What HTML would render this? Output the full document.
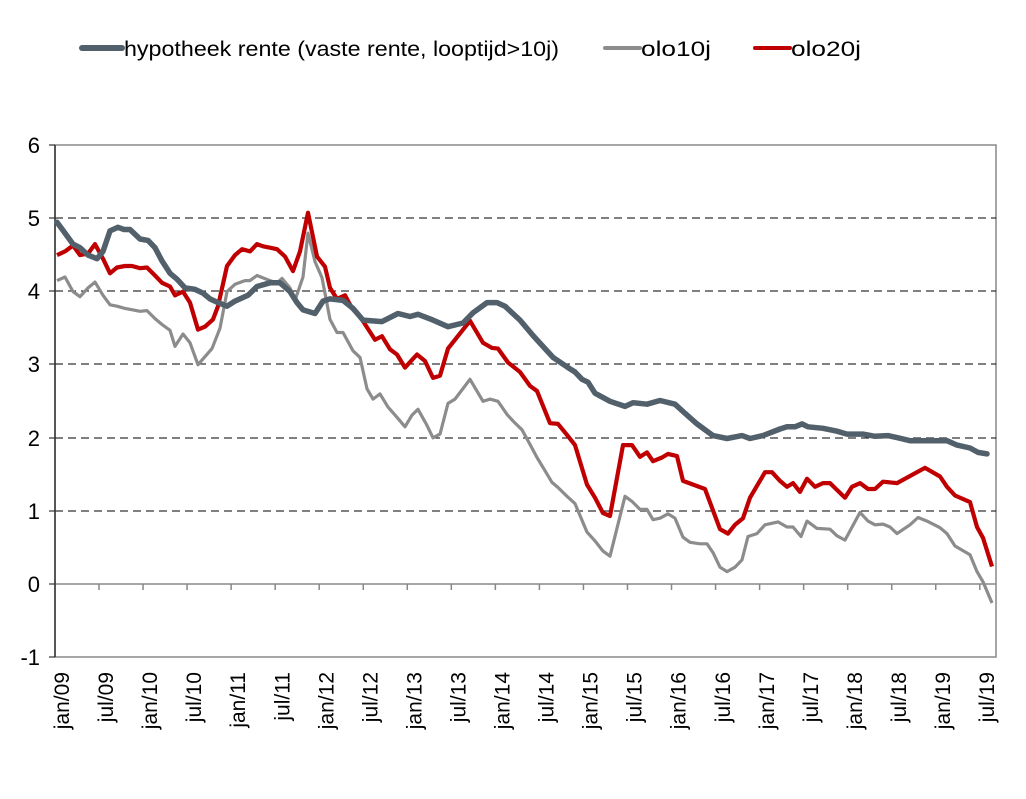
<!DOCTYPE html>
<html><head><meta charset="utf-8"><style>
html,body{margin:0;padding:0;background:#fff;}
svg{display:block;font-family:"Liberation Sans",sans-serif;}
</style></head><body>
<svg width="1026" height="799" viewBox="0 0 1026 799" xmlns="http://www.w3.org/2000/svg">
<rect width="1026" height="799" fill="#fff"/>
<line x1="82" y1="48" x2="122" y2="48" stroke="#52606b" stroke-width="6" stroke-linecap="round"/>
<text x="124" y="56" font-size="21" fill="#000" textLength="435" lengthAdjust="spacingAndGlyphs">hypotheek rente (vaste rente, looptijd&gt;10j)</text>
<line x1="605" y1="48" x2="640" y2="48" stroke="#8c8c8c" stroke-width="4" stroke-linecap="round"/>
<text x="641" y="56" font-size="21" fill="#000" textLength="70" lengthAdjust="spacingAndGlyphs">olo10j</text>
<line x1="755" y1="48" x2="790" y2="48" stroke="#c00000" stroke-width="4" stroke-linecap="round"/>
<text x="791" y="56" font-size="21" fill="#000" textLength="70" lengthAdjust="spacingAndGlyphs">olo20j</text>
<rect x="55" y="145" width="941" height="512" fill="none" stroke="#888" stroke-width="1.5"/>
<g stroke="#000" stroke-width="1" stroke-dasharray="8,5">
<line x1="55" y1="218" x2="996" y2="218"/>
<line x1="55" y1="291" x2="996" y2="291"/>
<line x1="55" y1="364" x2="996" y2="364"/>
<line x1="55" y1="438" x2="996" y2="438"/>
<line x1="55" y1="511" x2="996" y2="511"/>
</g>
<line x1="55" y1="584" x2="996" y2="584" stroke="#888" stroke-width="1.5"/>
<line x1="55" y1="145" x2="55" y2="657" stroke="#333" stroke-width="1.5"/>
<g stroke="#333" stroke-width="1.2">
<line x1="49" y1="145" x2="55" y2="145"/><line x1="49" y1="218" x2="55" y2="218"/><line x1="49" y1="291" x2="55" y2="291"/><line x1="49" y1="364" x2="55" y2="364"/><line x1="49" y1="438" x2="55" y2="438"/><line x1="49" y1="511" x2="55" y2="511"/><line x1="49" y1="584" x2="55" y2="584"/><line x1="49" y1="657" x2="55" y2="657"/>
</g>
<g stroke="#888" stroke-width="1.5" id="ticks"></g>
<g font-size="22" fill="#000" text-anchor="end">
<text x="40" y="153">6</text><text x="40" y="226">5</text><text x="40" y="299">4</text><text x="40" y="372">3</text><text x="40" y="446">2</text><text x="40" y="519">1</text><text x="40" y="592">0</text><text x="40" y="665">-1</text>
</g>
<g id="xl" font-size="21" fill="#000" text-anchor="end"></g>
<polyline id="grey" fill="none" stroke="#8c8c8c" stroke-width="3.2" stroke-linejoin="round"/>
<polyline id="red" fill="none" stroke="#c00000" stroke-width="4.2" stroke-linejoin="round"/>
<polyline id="hyp" fill="none" stroke="#52606b" stroke-width="5.5" stroke-linejoin="round" stroke-linecap="round"/>
</svg>
<script>
var NS="http://www.w3.org/2000/svg";
function Y(v){return 584-73.1*v;}
function pts(a){var s=[];for(var i=0;i<a.length;i+=2)s.push(a[i]+","+Y(a[i+1]).toFixed(1));return s.join(" ");}
var hyp=[57,4.95,65,4.8,73,4.65,80,4.6,88,4.5,97,4.45,103,4.55,110,4.83,118,4.88,124,4.85,130,4.85,140,4.72,148,4.7,155,4.6,162,4.42,170,4.25,177,4.17,185,4.05,195,4.03,203,3.98,210,3.9,218,3.85,227,3.8,235,3.87,248,3.95,257,4.07,270,4.12,280,4.12,290,4.0,297,3.85,303,3.75,315,3.7,323,3.87,330,3.9,343,3.88,353,3.77,363,3.61,382,3.59,398,3.7,410,3.66,418,3.69,433,3.61,448,3.52,463,3.57,473,3.71,487,3.85,497,3.85,505,3.8,520,3.61,533,3.4,553,3.1,567,2.97,575,2.9,582,2.8,588,2.76,595,2.61,610,2.5,625,2.43,633,2.48,647,2.46,660,2.51,675,2.46,683,2.36,697,2.19,713,2.03,727,1.99,742,2.03,750,1.99,763,2.03,780,2.12,787,2.15,795,2.15,802,2.19,808,2.15,823,2.13,837,2.09,847,2.05,863,2.05,875,2.02,888,2.03,898,2.0,910,1.96,947,1.96,957,1.9,970,1.86,978,1.8,987,1.78];
var grey=[57,4.15,65,4.2,73,4.0,80,3.93,88,4.05,95,4.13,103,3.95,110,3.82,117,3.8,125,3.77,140,3.73,147,3.74,155,3.63,162,3.55,170,3.47,175,3.25,183,3.42,190,3.3,198,3.0,212,3.22,220,3.5,227,4.0,235,4.1,245,4.15,250,4.15,257,4.22,270,4.15,277,4.12,282,4.18,290,4.05,295,3.88,303,4.2,308,4.8,315,4.41,322,4.19,330,3.62,337,3.44,343,3.44,353,3.19,360,3.1,367,2.67,373,2.53,380,2.6,388,2.42,397,2.28,405,2.15,412,2.31,418,2.39,427,2.17,433,2.0,440,2.05,448,2.47,455,2.53,470,2.8,483,2.5,490,2.53,498,2.5,507,2.32,513,2.23,522,2.11,530,1.91,537,1.73,545,1.55,552,1.39,558,1.32,567,1.2,575,1.1,587,0.71,595,0.59,603,0.45,610,0.38,625,1.2,632,1.13,640,1.02,647,1.02,653,0.88,660,0.9,668,0.96,675,0.9,683,0.64,690,0.57,700,0.55,707,0.55,713,0.43,720,0.23,727,0.17,735,0.23,742,0.33,748,0.65,757,0.69,765,0.81,778,0.85,787,0.78,793,0.78,801,0.65,807,0.86,817,0.76,830,0.75,837,0.66,845,0.6,860,0.98,868,0.86,875,0.81,883,0.82,890,0.78,897,0.69,910,0.81,918,0.91,927,0.86,940,0.77,947,0.69,955,0.52,970,0.4,977,0.17,983,0.03,992,-0.26];
var red=[57,4.5,65,4.55,73,4.63,80,4.5,88,4.52,95,4.65,103,4.45,110,4.25,117,4.33,125,4.35,132,4.35,140,4.32,147,4.33,155,4.22,162,4.12,170,4.07,175,3.95,183,4.0,190,3.85,198,3.48,205,3.52,213,3.62,218,3.8,227,4.35,235,4.5,242,4.58,250,4.55,257,4.65,263,4.62,270,4.6,277,4.58,285,4.48,293,4.28,300,4.55,308,5.08,317,4.48,325,4.34,330,4.05,337,3.9,345,3.95,352,3.77,360,3.66,375,3.34,382,3.39,390,3.21,397,3.14,405,2.96,417,3.14,425,3.05,433,2.82,440,2.85,448,3.22,470,3.6,483,3.3,492,3.23,498,3.22,508,3.03,520,2.9,530,2.71,537,2.64,550,2.2,558,2.19,567,2.04,575,1.9,587,1.36,595,1.18,603,0.97,610,0.93,623,1.9,632,1.9,640,1.74,647,1.8,653,1.68,662,1.73,668,1.78,677,1.75,683,1.41,705,1.3,720,0.75,728,0.69,735,0.81,743,0.9,750,1.18,765,1.53,772,1.53,780,1.41,787,1.33,793,1.38,800,1.26,807,1.44,815,1.33,823,1.38,830,1.38,845,1.18,852,1.33,860,1.38,868,1.3,875,1.3,883,1.4,897,1.38,925,1.59,940,1.47,947,1.33,955,1.21,970,1.12,977,0.78,983,0.63,992,0.24];
document.getElementById("hyp").setAttribute("points",pts(hyp));
document.getElementById("grey").setAttribute("points",pts(grey));
document.getElementById("red").setAttribute("points",pts(red));
var tk=document.getElementById("ticks");
for(var k=0;k<=20;k++){var x=99+44.04*k;var l=document.createElementNS(NS,"line");l.setAttribute("x1",x);l.setAttribute("x2",x);l.setAttribute("y1",584);l.setAttribute("y2",590);tk.appendChild(l);}
var labs=[];for(var yr=9;yr<=19;yr++){var s=(yr<10?"0":"")+yr;labs.push("jan/"+s);labs.push("jul/"+s);}
var xl=document.getElementById("xl");
for(var k=0;k<labs.length;k++){var cx=62+44.05*k;var t=document.createElementNS(NS,"text");var ax=cx+7,ay=672;t.setAttribute("x",ax);t.setAttribute("y",ay);t.setAttribute("transform","rotate(-90 "+ax+" "+ay+")");t.textContent=labs[k];xl.appendChild(t);}
</script>
</body></html>
